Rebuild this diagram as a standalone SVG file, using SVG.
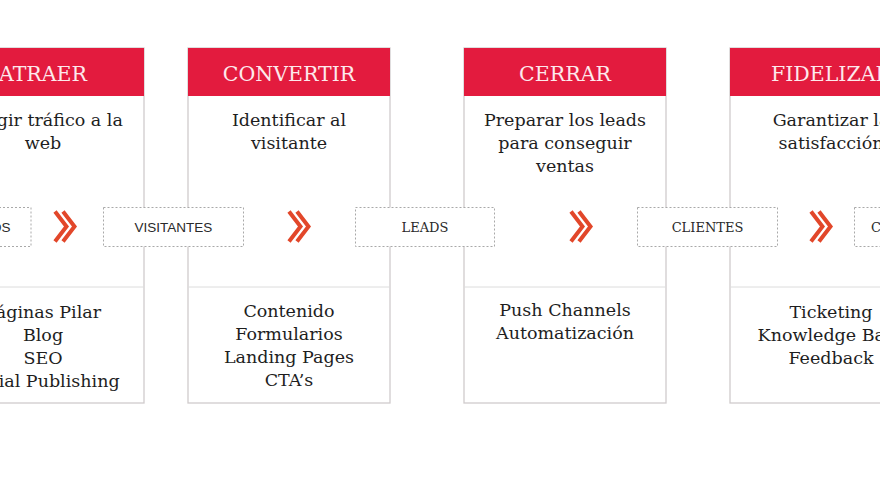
<svg xmlns="http://www.w3.org/2000/svg" width="880" height="480" viewBox="0 0 880 480">
<style>
.card{fill:#fff;stroke:#d0cbcc;stroke-width:1.3}
.sep{stroke:#dcdcdc;stroke-width:1}
.hdr{fill:#e31b3e}
.ht{font-family:"DejaVu Serif","Liberation Serif",serif;font-size:20.5px;fill:#fde9ec;text-anchor:middle}
.bt{font-family:"DejaVu Serif","Liberation Serif",serif;font-size:17.5px;fill:#1e1e1e;text-anchor:middle}
.lb{fill:#fff;stroke:#a9a9a9;stroke-width:1;stroke-dasharray:2 2}
.ls{font-family:"Liberation Sans",Arial,sans-serif;font-size:13.5px;fill:#2a2a2a;text-anchor:middle}
.lsf{font-family:"DejaVu Serif","Liberation Serif",serif;font-size:13px;fill:#2a2a2a;text-anchor:middle}
.chev{fill:none;stroke:#e2472a;stroke-width:4;stroke-linecap:butt;stroke-linejoin:miter}
</style>
<defs>
<g id="chevron">
<path class="chev" d="M2,211.5 L13.5,226.5 L2,241.5"/>
<path class="chev" d="M10,211.5 L21.5,226.5 L10,241.5"/>
</g>
</defs>
<rect width="880" height="480" fill="#fff"/>

<g id="card-atraer">
<rect class="card" x="-58" y="48" width="202" height="355"/>
<rect class="hdr" x="-58" y="48" width="202" height="48"/>
<text class="ht" x="43" y="81">ATRAER</text>
<text class="bt" x="43" y="126">Dirigir tráfico a la</text>
<text class="bt" x="43" y="149">web</text>
<line class="sep" x1="-58" y1="287" x2="144" y2="287"/>
<text class="bt" x="43" y="318">Páginas Pilar</text>
<text class="bt" x="43" y="341">Blog</text>
<text class="bt" x="43" y="364">SEO</text>
<text class="bt" x="43" y="387">Social Publishing</text>
</g>

<g id="card-convertir">
<rect class="card" x="188" y="48" width="202" height="355"/>
<rect class="hdr" x="188" y="48" width="202" height="48"/>
<text class="ht" x="289" y="81">CONVERTIR</text>
<text class="bt" x="289" y="126">Identificar al</text>
<text class="bt" x="289" y="149">visitante</text>
<line class="sep" x1="188" y1="287" x2="390" y2="287"/>
<text class="bt" x="289" y="317">Contenido</text>
<text class="bt" x="289" y="340">Formularios</text>
<text class="bt" x="289" y="363">Landing Pages</text>
<text class="bt" x="289" y="386">CTA’s</text>
</g>

<g id="card-cerrar">
<rect class="card" x="464" y="48" width="202" height="355"/>
<rect class="hdr" x="464" y="48" width="202" height="48"/>
<text class="ht" x="565" y="81">CERRAR</text>
<text class="bt" x="565" y="126">Preparar los leads</text>
<text class="bt" x="565" y="149">para conseguir</text>
<text class="bt" x="565" y="172">ventas</text>
<line class="sep" x1="464" y1="287" x2="666" y2="287"/>
<text class="bt" x="565" y="316">Push Channels</text>
<text class="bt" x="565" y="339">Automatización</text>
</g>

<g id="card-fidelizar">
<rect class="card" x="730" y="48" width="202" height="355"/>
<rect class="hdr" x="730" y="48" width="202" height="48"/>
<text class="ht" x="831" y="81">FIDELIZAR</text>
<text class="bt" x="831" y="126">Garantizar la</text>
<text class="bt" x="831" y="149">satisfacción</text>
<line class="sep" x1="730" y1="287" x2="932" y2="287"/>
<text class="bt" x="831" y="318">Ticketing</text>
<text class="bt" x="831" y="341">Knowledge Base</text>
<text class="bt" x="831" y="364">Feedback</text>
</g>

<g id="label-os">
<rect class="lb" x="-109" y="207.5" width="140" height="39"/>
<text class="ls" x="10.5" y="232" style="text-anchor:end">OS</text>
</g>
<g id="label-visitantes">
<rect class="lb" x="103.5" y="207.5" width="140" height="39"/>
<text class="ls" x="173.5" y="232">VISITANTES</text>
</g>
<g id="label-leads">
<rect class="lb" x="355.5" y="207.5" width="139" height="39"/>
<text class="lsf" x="425" y="232">LEADS</text>
</g>
<g id="label-clientes">
<rect class="lb" x="637.5" y="207.5" width="140" height="39"/>
<text class="lsf" x="707.5" y="232">CLIENTES</text>
</g>
<g id="label-c">
<rect class="lb" x="854.5" y="207.5" width="140" height="39"/>
<text class="lsf" x="871" y="232" style="text-anchor:start">C</text>
</g>

<g id="connectors">
<use href="#chevron" x="53" y="0"/>
<use href="#chevron" x="287" y="0"/>
<use href="#chevron" x="569" y="0"/>
<use href="#chevron" x="809" y="0"/>
</g>
</svg>
